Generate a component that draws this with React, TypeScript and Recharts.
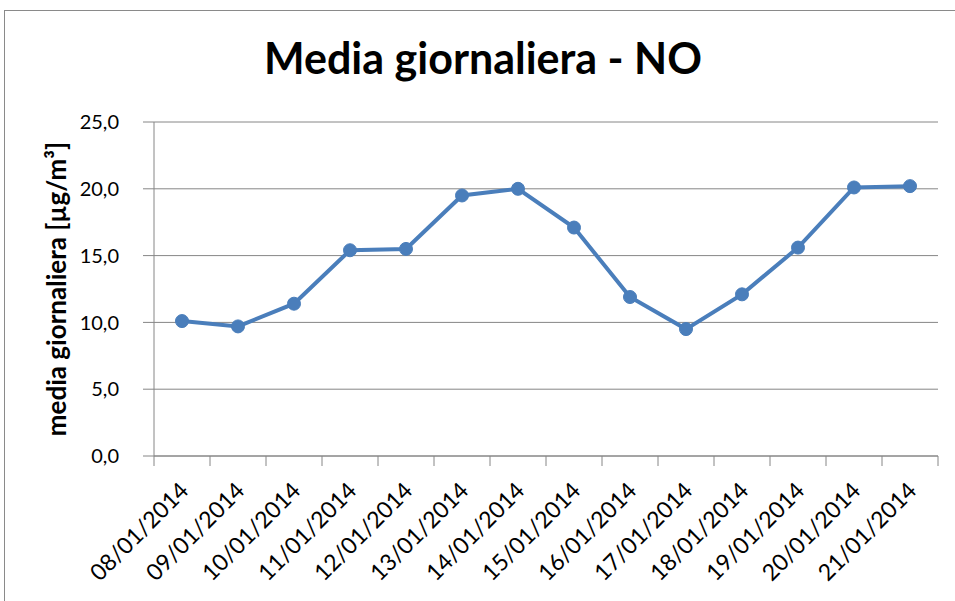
import React from "react";
import { LineChart, Line, XAxis, YAxis, CartesianGrid } from "recharts";

const dates = [
  "08/01/2014", "09/01/2014", "10/01/2014", "11/01/2014", "12/01/2014",
  "13/01/2014", "14/01/2014", "15/01/2014", "16/01/2014", "17/01/2014",
  "18/01/2014", "19/01/2014", "20/01/2014", "21/01/2014",
];
const noValues = [10.1, 9.7, 11.4, 15.4, 15.5, 19.5, 20.0, 17.1, 11.9, 9.5, 12.1, 15.6, 20.1, 20.2];
const yTicks = [0, 5, 10, 15, 20, 25];

const data = dates.map((d, i) => ({ i, date: d, value: noValues[i] }));
const labelTicks = dates.map((_, i) => i);
const boundaryTicks = [...dates.map((_, i) => i - 0.5), dates.length - 0.5];

const FONT = "Lato, 'Open Sans', sans-serif";
const LINE = "#4a7ebb";
const GRID = "#868686";

// Excel puts the category tick marks between the categories
function BoundaryTick({ x, y }: any) {
  return <line x1={x} x2={x} y1={y - 10} y2={y} stroke={GRID} strokeWidth={1} />;
}

function DateTick({ x, y, payload }: any) {
  const label = dates[payload.value] ?? "";
  const ax = x + 8;
  const ay = y + 16;
  return (
    <text
      x={ax}
      y={ay}
      textAnchor="end"
      transform={`rotate(-45, ${ax}, ${ay})`}
      fontFamily={FONT}
      fontSize={23}
      fill="#000"
    >
      {label}
    </text>
  );
}

function YLabel({ viewBox }: any) {
  const cy = viewBox.y + viewBox.height / 2;
  const cx = 66;
  return (
    <text
      x={cx}
      y={cy}
      textAnchor="middle"
      transform={`rotate(-90, ${cx}, ${cy})`}
      fontFamily={FONT}
      fontWeight="bold"
      fontSize={26}
      fill="#000"
    >
      media giornaliera [µg/m³]
    </text>
  );
}

export default function App() {
  return (
    <div style={{ position: "fixed", left: 0, top: 0, width: 955, height: 601, background: "#fff", overflow: "hidden" }}>
      <div
        style={{
          position: "absolute",
          left: 4,
          top: 10,
          width: 1000,
          height: 700,
          borderLeft: "1px solid #8a8a8a",
          borderTop: "1px solid #8a8a8a",
        }}
      />
      <div
        style={{
          position: "absolute",
          left: 0,
          top: 36,
          width: 966,
          textAlign: "center",
          fontFamily: FONT,
          fontWeight: "bold",
          fontSize: 43,
          lineHeight: 1,
          color: "#000",
        }}
      >
        Media giornaliera - NO
      </div>
      <div style={{ position: "absolute", left: 0, top: 0 }}>
        <LineChart
          width={955}
          height={601}
          data={data}
          margin={{ top: 122, right: 17, left: 0, bottom: 0 }}
        >
          <CartesianGrid horizontal vertical={false} stroke={GRID} strokeWidth={1} />
          <XAxis
            xAxisId="bounds"
            dataKey="i"
            type="number"
            domain={[-0.5, dates.length - 0.5]}
            ticks={boundaryTicks}
            tick={<BoundaryTick />}
            tickLine={false}
            tickSize={0}
            tickMargin={10}
            axisLine={{ stroke: GRID }}
            height={12}
            interval={0}
            allowDecimals
          />
          <XAxis
            xAxisId="labels"
            dataKey="i"
            type="number"
            domain={[-0.5, dates.length - 0.5]}
            ticks={labelTicks}
            tick={<DateTick />}
            tickLine={false}
            axisLine={false}
            height={133}
            interval={0}
          />
          <YAxis
            domain={[0, 25]}
            ticks={yTicks}
            width={154}
            axisLine={{ stroke: GRID }}
            tickLine={{ stroke: GRID }}
            tickSize={11}
            tickMargin={24}
            tickFormatter={(v: number) => v.toFixed(1).replace(".", ",")}
            tick={{ fontFamily: FONT, fontSize: 20, fill: "#000" }}
            label={<YLabel />}
          />
          <Line
            xAxisId="labels"
            type="linear"
            dataKey="value"
            stroke={LINE}
            strokeWidth={4}
            dot={{ r: 6.5, fill: LINE, stroke: LINE, strokeWidth: 1 }}
            isAnimationActive={false}
          />
        </LineChart>
      </div>
    </div>
  );
}
